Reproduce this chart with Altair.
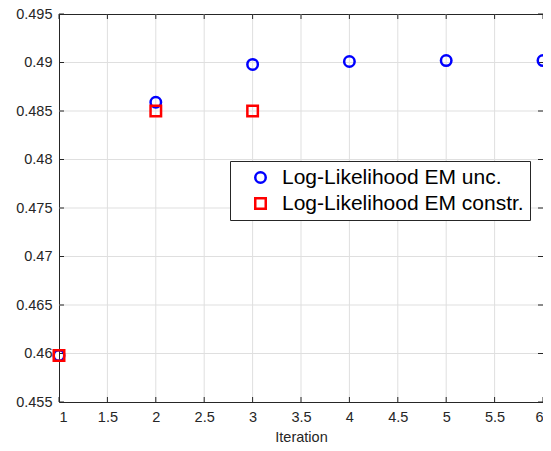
import altair as alt
import pandas as pd

# ---- data ----
iter_unc = [1, 2, 3, 4, 5, 6]
ll_unc = [0.4598, 0.4859, 0.4898, 0.4901, 0.4902, 0.4902]
iter_con = [1, 2, 3]
ll_con = [0.4598, 0.4850, 0.4850]
series_names = ["Log-Likelihood EM unc.", "Log-Likelihood EM constr."]
series_colors = ["#0000ff", "#ff0000"]
series_shapes = ["circle", "square"]
x_ticks = [1, 1.5, 2, 2.5, 3, 3.5, 4, 4.5, 5, 5.5, 6]
y_ticks = [0.455, 0.46, 0.465, 0.47, 0.475, 0.48, 0.485, 0.49, 0.495]

W, H = 484, 388
FONT = "Liberation Sans"
AX = "#262626"
TICK = 5

df = pd.DataFrame({
    "iter": iter_unc + iter_con,
    "ll": ll_unc + ll_con,
    "series": [series_names[0]] * len(iter_unc) + [series_names[1]] * len(iter_con),
    "ord": list(range(len(iter_unc) + len(iter_con))),
})
xt = pd.DataFrame({"iter": x_ticks})
yt = pd.DataFrame({"ll": y_ticks})
xg = pd.DataFrame({"iter": x_ticks[1:-1]})
yg = pd.DataFrame({"ll": y_ticks[1:-1]})

xscale = alt.Scale(domain=[1, 6], nice=False, zero=False)
yscale = alt.Scale(domain=[0.455, 0.495], nice=False, zero=False)

common_axis = dict(grid=False, ticks=False, domain=True, domainColor=AX, domainWidth=1,
                   labelFont=FONT, labelFontSize=14.5, labelColor=AX, zindex=0)

x_axis = alt.Axis(values=x_ticks, format="~g", title="Iteration", labelPadding=8,
                  titleFont=FONT, titleFontSize=14.5, titleColor=AX, titleFontWeight="normal",
                  titleBaseline="alphabetic", titleY=39, **common_axis)
y_axis = alt.Axis(values=y_ticks, format="~g", title=None, labelPadding=7, **common_axis)
top_axis = alt.Axis(orient="top", labels=False, title=None, **common_axis)
right_axis = alt.Axis(orient="right", labels=False, title=None, **common_axis)

grid_x = alt.Chart(xg).mark_rule(color="#dfdfdf", strokeWidth=1).encode(
    x=alt.X("iter:Q", scale=xscale, axis=None))
grid_y = alt.Chart(yg).mark_rule(color="#dfdfdf", strokeWidth=1).encode(
    y=alt.Y("ll:Q", scale=yscale, axis=None))

tick_bottom = alt.Chart(xt).mark_rule(color=AX, strokeWidth=1).encode(
    x=alt.X("iter:Q", scale=xscale, axis=None), y=alt.value(H), y2=alt.value(H - TICK))
tick_top = alt.Chart(xt).mark_rule(color=AX, strokeWidth=1).encode(
    x=alt.X("iter:Q", scale=xscale, axis=top_axis), y=alt.value(0), y2=alt.value(TICK))
tick_left = alt.Chart(yt).mark_rule(color=AX, strokeWidth=1).encode(
    y=alt.Y("ll:Q", scale=yscale, axis=None), x=alt.value(0), x2=alt.value(TICK))
tick_right = alt.Chart(yt).mark_rule(color=AX, strokeWidth=1).encode(
    y=alt.Y("ll:Q", scale=yscale, axis=right_axis), x=alt.value(W), x2=alt.value(W - TICK))

legend = alt.Legend(title=None, orient="none", legendX=171, legendY=147,
                    fillColor="white", strokeColor=AX, padding=6,
                    labelFont=FONT, labelFontSize=21, labelColor="black", labelLimit=400,
                    symbolSize=110, symbolStrokeWidth=2.5, symbolOffset=14,
                    labelOffset=11, rowPadding=4)

points = alt.Chart(df).mark_point(filled=False, strokeWidth=2.5, size=110, opacity=1).encode(
    x=alt.X("iter:Q", scale=xscale, axis=x_axis),
    y=alt.Y("ll:Q", scale=yscale, axis=y_axis),
    color=alt.Color("series:N", scale=alt.Scale(domain=series_names, range=series_colors), legend=legend),
    shape=alt.Shape("series:N", scale=alt.Scale(domain=series_names, range=series_shapes), legend=legend),
    order=alt.Order("ord:Q"),
)

chart = alt.layer(grid_x, grid_y, tick_bottom, tick_top, tick_left, tick_right, points).resolve_axis(
    x="independent", y="independent"
).properties(
    width=W, height=H,
    autosize=alt.AutoSizeParams(type="none"),
    padding={"left": 51, "top": 6, "right": 0, "bottom": 41},
).configure_view(stroke=None)

chart.save("out.html", embed_options={"renderer": "svg", "actions": False})
